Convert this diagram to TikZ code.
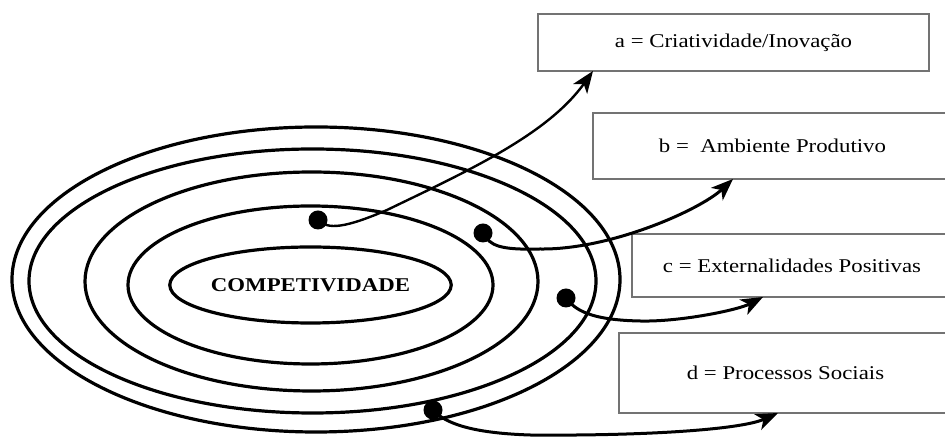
\documentclass[tikz,border=0pt]{standalone}
\usepackage{fontspec}
\setmainfont{Liberation Serif}[FakeStretch=1.17]
\usetikzlibrary{arrows.meta,shapes.geometric}

\begin{document}
\begin{tikzpicture}[x=1pt,y=1pt,
    ring/.style={line width=3.2pt},
    tag/.style={draw=black!55,line width=1.4pt,inner sep=0pt,
      font=\fontsize{19.5}{22}\selectfont},
    dot/.style={circle,fill=black,inner sep=0pt,minimum size=19pt},
    link/.style={line width=3pt,-{Stealth[length=22pt,width=17pt,inset=6pt]}}]
  \useasboundingbox (0,0) rectangle (945,438);

  % the rings
  \draw [ring] (316,158.5) ellipse [x radius=304, y radius=152.5];
  \draw [ring] (312.5,157) ellipse [x radius=283.5, y radius=132];
  \draw [ring] (311.5,156.5) ellipse [x radius=226.5, y radius=109.5];
  \draw [ring] (310.5,153) ellipse [x radius=182.5, y radius=79];
  \node [ring,draw,ellipse,minimum width=255pt,minimum height=76pt,inner sep=0pt,
    font=\bfseries\fontsize{19.5}{22}\selectfont] (core) at (310.5,153) {COMPETIVIDADE};

  % the boxes
  \node [tag,minimum width=391pt,minimum height=57pt] (boxa) at (733.5,395.5) {a = Criatividade/Inovação};
  \node [tag,minimum width=359pt,minimum height=66pt] (boxb) at (772.5,292) {b = \ Ambiente Produtivo};
  \node [tag,minimum width=320pt,minimum height=63pt] (boxc) at (792,172.5) {c = Externalidades Positivas};
  \node [tag,minimum width=333pt,minimum height=80pt] (boxd) at (785.5,65) {d = Processos Sociais};

  \coordinate (tipa) at (593,367);
  \coordinate (tipb) at (733,259);
  \coordinate (tipc) at (763,141);
  \coordinate (tipd) at (778,25);

  \node [dot] (dota) at (318,218) {};
  \node [dot] (dotb) at (483,205) {};
  \node [dot] (dotc) at (566,140) {};
  \node [dot] (dotd) at (433,28) {};

  \draw [link,line width=2.4pt] (dota.center) .. controls (328,208) and (345,210) .. (387,228)
    .. controls (470,268) and (548,304) .. (tipa);
  \draw [link] (dotb.center) .. controls (490,192) and (500,188) .. (540,189)
    .. controls (610,188) and (700,228) .. (tipb);
  \draw [link] (dotc.center) .. controls (575,128) and (590,118) .. (640,117)
    .. controls (680,116) and (738,128) .. (tipc);
  \draw [link] (dotd.center) .. controls (445,15) and (470,5) .. (530,3)
    .. controls (640,2) and (740,8) .. (tipd);
\end{tikzpicture}
\end{document}
